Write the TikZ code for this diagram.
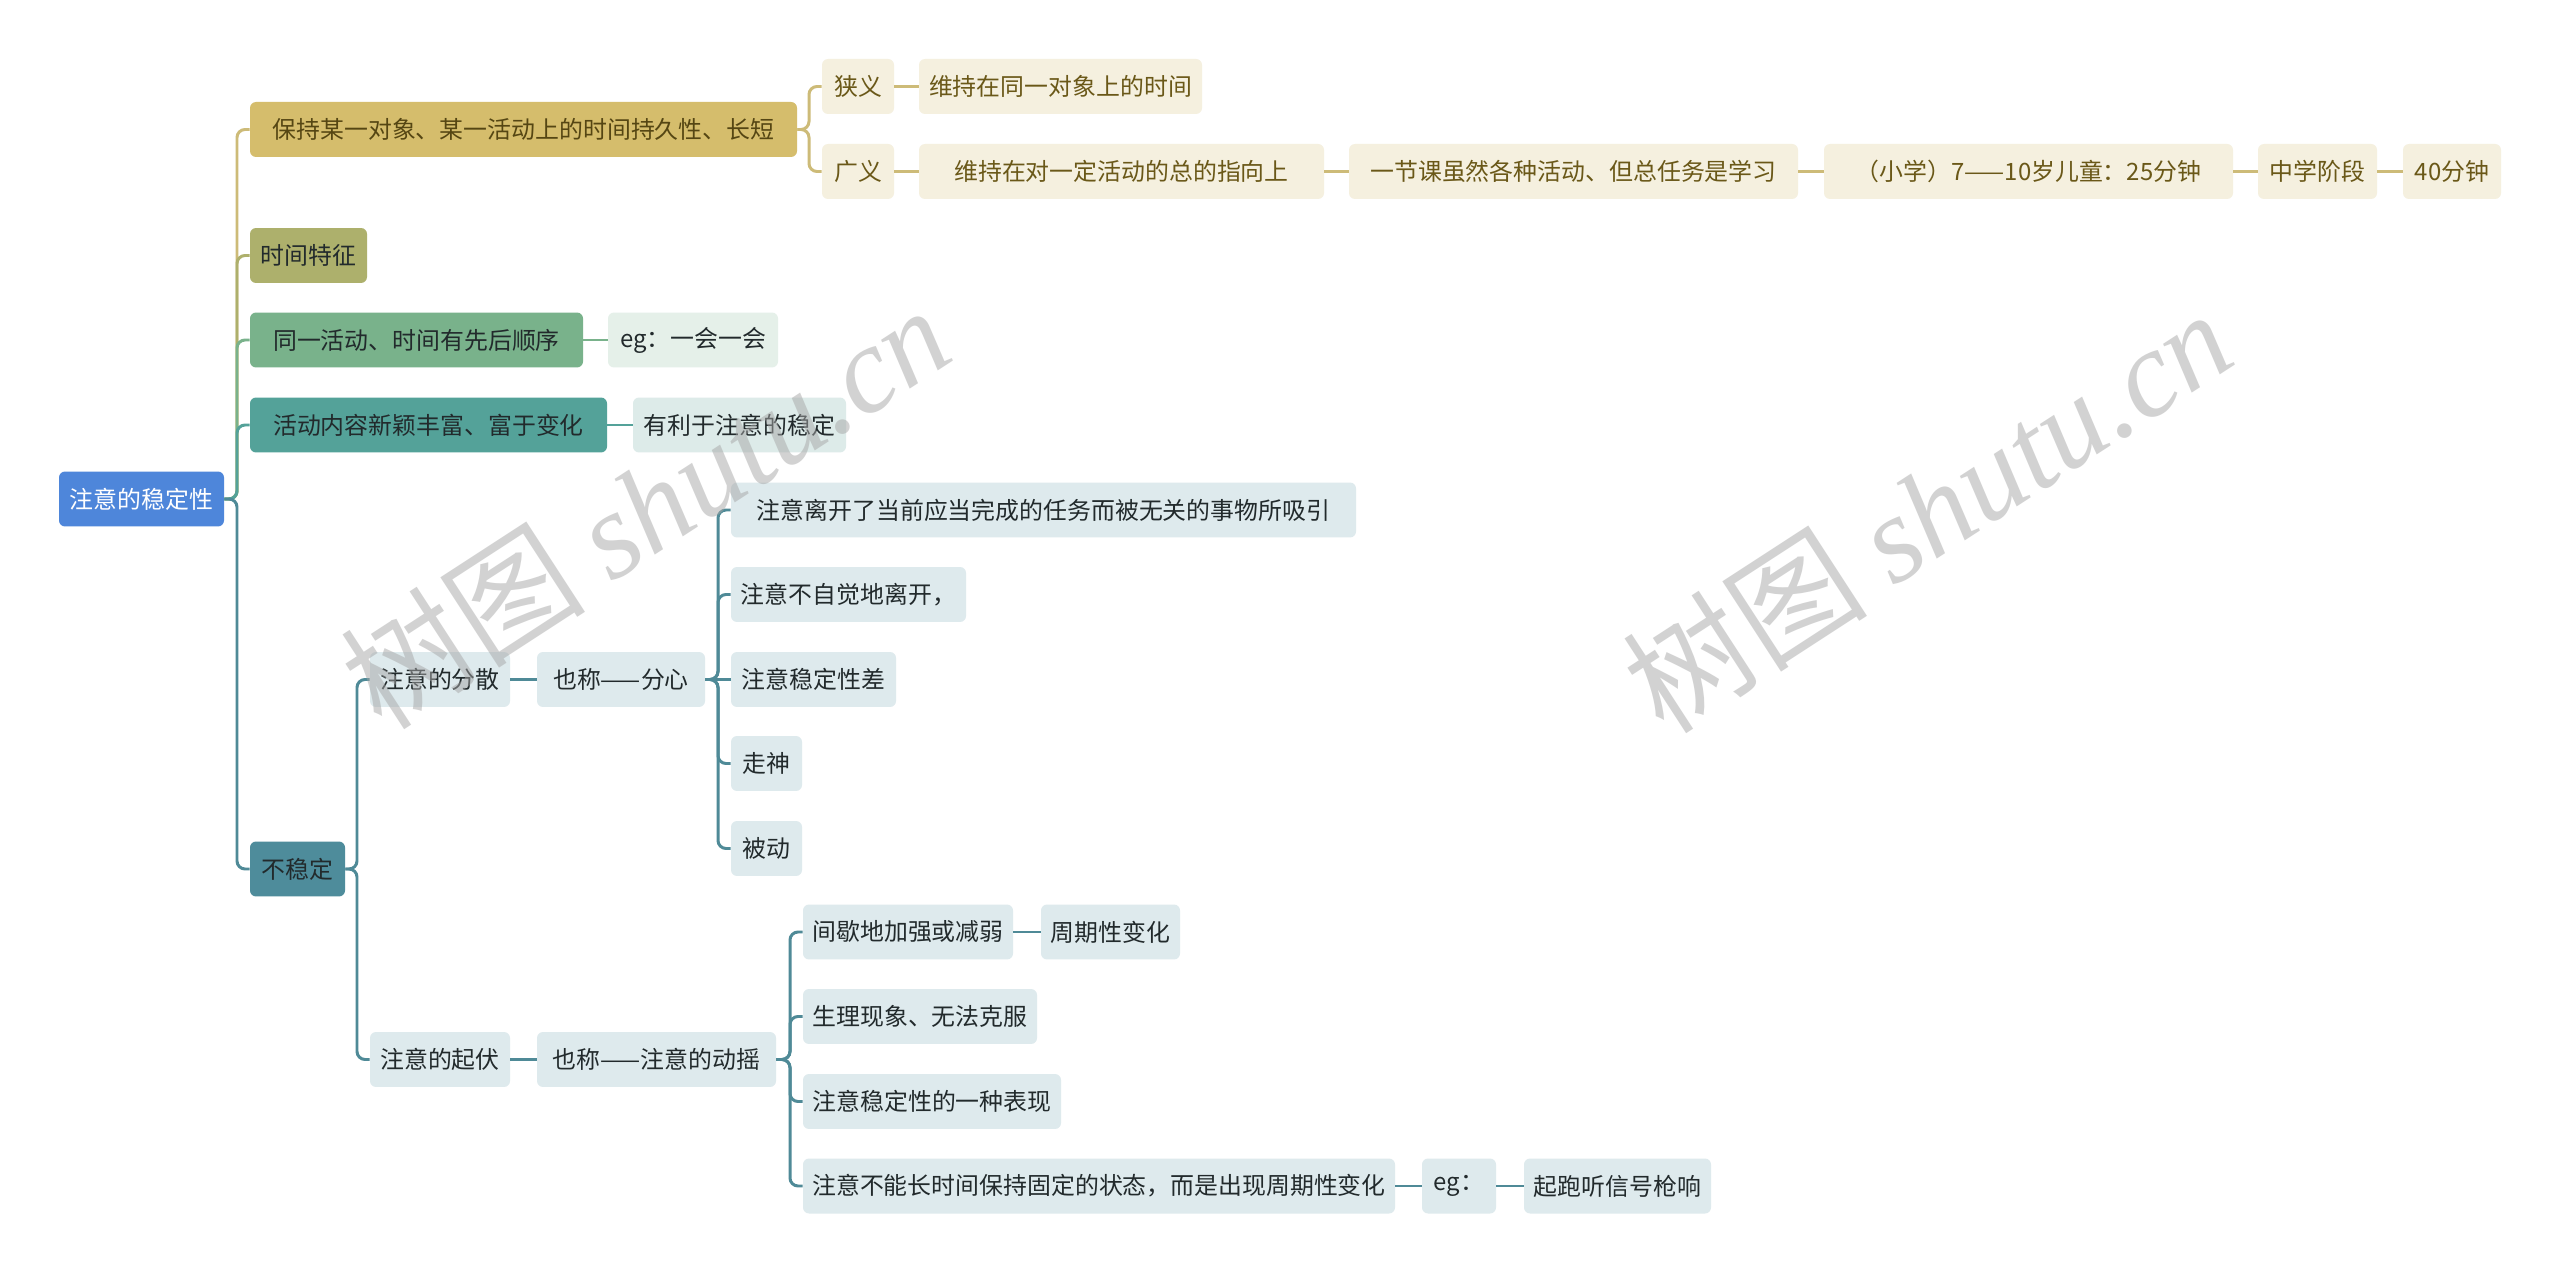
\documentclass[tikz,border=0pt]{standalone}
\usepackage{fontspec}
\setmainfont{Noto Sans CJK SC}
\newfontfamily\cjkfont{Noto Sans CJK SC}
\newfontfamily\wmserif{Liberation Serif}
\definecolor{rootfill}{HTML}{4E86DA}
\definecolor{goldfill}{HTML}{D5BD6C}
\definecolor{goldline}{HTML}{CDBB78}
\definecolor{goldlight}{HTML}{F5F0DF}
\definecolor{goldtext}{HTML}{6A5818}
\definecolor{olivefill}{HTML}{ADB06C}
\definecolor{oliveline}{HTML}{AEB06C}
\definecolor{greenfill}{HTML}{79B28B}
\definecolor{greenlight}{HTML}{E5F0E9}
\definecolor{tealfill}{HTML}{54A299}
\definecolor{teallight}{HTML}{DDEBE9}
\definecolor{steelfill}{HTML}{4E8C9B}
\definecolor{steelline}{HTML}{4F8A97}
\definecolor{steellight}{HTML}{DEEAED}
\definecolor{darktext}{HTML}{222A2C}
\usetikzlibrary{calc}
\begin{document}
\begin{tikzpicture}[x=0.02cm,y=-0.02cm,
  box/.style={rounded corners=0.12cm, inner sep=0pt, minimum height=1.1cm, minimum width=#1*0.02cm,
    font=\fontsize{13.6pt}{16pt}\selectfont, align=center},
  conn/.style={line width=1.7pt, rounded corners=0.16cm},
  goldbox/.style={box=#1, fill=goldlight, text=goldtext},
  steelbox/.style={box=#1, fill=steellight, text=darktext},
]
\useasboundingbox[fill=white] (0,0) rectangle (2560,1273);

% trunk coordinates
\coordinate (t0) at (237,0);
\coordinate (t1) at (809,0);
\coordinate (t2) at (357,0);
\coordinate (t3) at (718,0);
\coordinate (t4) at (790,0);

% nodes
\node[box=165, fill=rootfill, text=white] (root) at (141.5,499) {注意的稳定性};
\node[box=547, fill=goldfill, text=goldtext!80!black] (n1) at (523.5,129.5) {保持某一对象、某一活动上的时间持久性、长短};
\node[goldbox=72] (a1) at (858,86.5) {狭义};
\node[goldbox=283] (a2) at (1060.5,86.5) {维持在同一对象上的时间};
\node[goldbox=72] (b1) at (858,171.5) {广义};
\node[goldbox=405] (b2) at (1121.5,171.5) {维持在对一定活动的总的指向上};
\node[goldbox=449] (b3) at (1573.5,171.5) {一节课虽然各种活动、但总任务是学习};
\node[goldbox=409] (b4) at (2028.5,171.5) {（小学）7——10岁儿童：25分钟};
\node[goldbox=119] (b5) at (2317.5,171.5) {中学阶段};
\node[goldbox=98] (b6) at (2452,171.5) {40分钟};

\node[box=117, fill=olivefill, text=darktext] (n2) at (308.5,255.5) {时间特征};
\node[box=333, fill=greenfill, text=darktext] (n3) at (416.5,340) {同一活动、时间有先后顺序};
\node[box=170, fill=greenlight, text=darktext] (n3a) at (693,340) {eg：一会一会};
\node[box=357, fill=tealfill, text=darktext] (n4) at (428.5,425) {活动内容新颖丰富、富于变化};
\node[box=213, fill=teallight, text=darktext] (n4a) at (739.5,425) {有利于注意的稳定};
\node[box=95, fill=steelfill, text=darktext] (n5) at (297.5,869) {不稳定};

\node[steelbox=140] (c1) at (440,679.5) {注意的分散};
\node[steelbox=168] (c2) at (621,679.5) {也称——分心};
\node[steelbox=625] (d1) at (1043.5,510) {注意离开了当前应当完成的任务而被无关的事物所吸引};
\node[steelbox=235] (d2) at (848.5,594.5) {注意不自觉地离开，};
\node[steelbox=165] (d3) at (813.5,679.5) {注意稳定性差};
\node[steelbox=71] (d4) at (766.5,763.5) {走神};
\node[steelbox=71] (d5) at (766.5,848.5) {被动};

\node[steelbox=140] (e1) at (440,1059.5) {注意的起伏};
\node[steelbox=239] (e2) at (656.5,1059.5) {也称——注意的动摇};
\node[steelbox=210] (f1) at (908,932) {间歇地加强或减弱};
\node[steelbox=139] (f1a) at (1110.5,932) {周期性变化};
\node[steelbox=234] (f2) at (920,1016.5) {生理现象、无法克服};
\node[steelbox=258] (f3) at (932,1101.5) {注意稳定性的一种表现};
\node[steelbox=592] (f4) at (1099,1186) {注意不能长时间保持固定的状态，而是出现周期性变化};
\node[steelbox=74] (f4a) at (1459,1186) {eg：};
\node[steelbox=187] (f4b) at (1617.5,1186) {起跑听信号枪响};

% connectors level 1 (far first)
\draw[conn, goldline] (root.east) -- (root.east -| t0) |- (n1.west);
\draw[conn, oliveline] (root.east) -- (root.east -| t0) |- (n2.west);
\draw[conn, greenfill] (root.east) -- (root.east -| t0) |- (n3.west);
\draw[conn, tealfill] (root.east) -- (root.east -| t0) |- (n4.west);
\draw[conn, steelline] (root.east) -- (root.east -| t0) |- (n5.west);

% gold sub-branch
\draw[conn, goldline] (n1.east) -- (n1.east -| t1) |- (a1.west);
\draw[conn, goldline] (n1.east) -- (n1.east -| t1) |- (b1.west);
\draw[conn, goldline] (a1) -- (a2);
\draw[conn, goldline] (b1) -- (b2);
\draw[conn, goldline] (b2) -- (b3);
\draw[conn, goldline] (b3) -- (b4);
\draw[conn, goldline] (b4) -- (b5);
\draw[conn, goldline] (b5) -- (b6);

\draw[conn, greenfill] (n3) -- (n3a);
\draw[conn, tealfill] (n4) -- (n4a);

% unstable
\draw[conn, steelline] (n5.east) -- (n5.east -| t2) |- (c1.west);
\draw[conn, steelline] (n5.east) -- (n5.east -| t2) |- (e1.west);
\draw[conn, steelline] (c1) -- (c2);
\draw[conn, steelline] (c2.east) -- (c2.east -| t3) |- (d1.west);
\draw[conn, steelline] (c2.east) -- (c2.east -| t3) |- (d2.west);
\draw[conn, steelline] (c2) -- (d3);
\draw[conn, steelline] (c2.east) -- (c2.east -| t3) |- (d4.west);
\draw[conn, steelline] (c2.east) -- (c2.east -| t3) |- (d5.west);

\draw[conn, steelline] (e1) -- (e2);
\draw[conn, steelline] (e2.east) -- (e2.east -| t4) |- (f1.west);
\draw[conn, steelline] (e2.east) -- (e2.east -| t4) |- (f2.west);
\draw[conn, steelline] (e2.east) -- (e2.east -| t4) |- (f3.west);
\draw[conn, steelline] (e2.east) -- (e2.east -| t4) |- (f4.west);
\draw[conn, steelline] (f1) -- (f1a);
\draw[conn, steelline] (f4) -- (f4a);
\draw[conn, steelline] (f4a) -- (f4b);

% watermarks
\node[rotate=33, text=black!35, opacity=0.5, font=\fontsize{70pt}{80pt}\selectfont] (wm1) at (645,506) {\cjkfont 树图\ {\wmserif\itshape shutu.cn}};
\node[rotate=33, text=black!35, opacity=0.5, font=\fontsize{70pt}{80pt}\selectfont] (wm2) at (1927,510) {\cjkfont 树图\ {\wmserif\itshape shutu.cn}};
\end{tikzpicture}
\end{document}
